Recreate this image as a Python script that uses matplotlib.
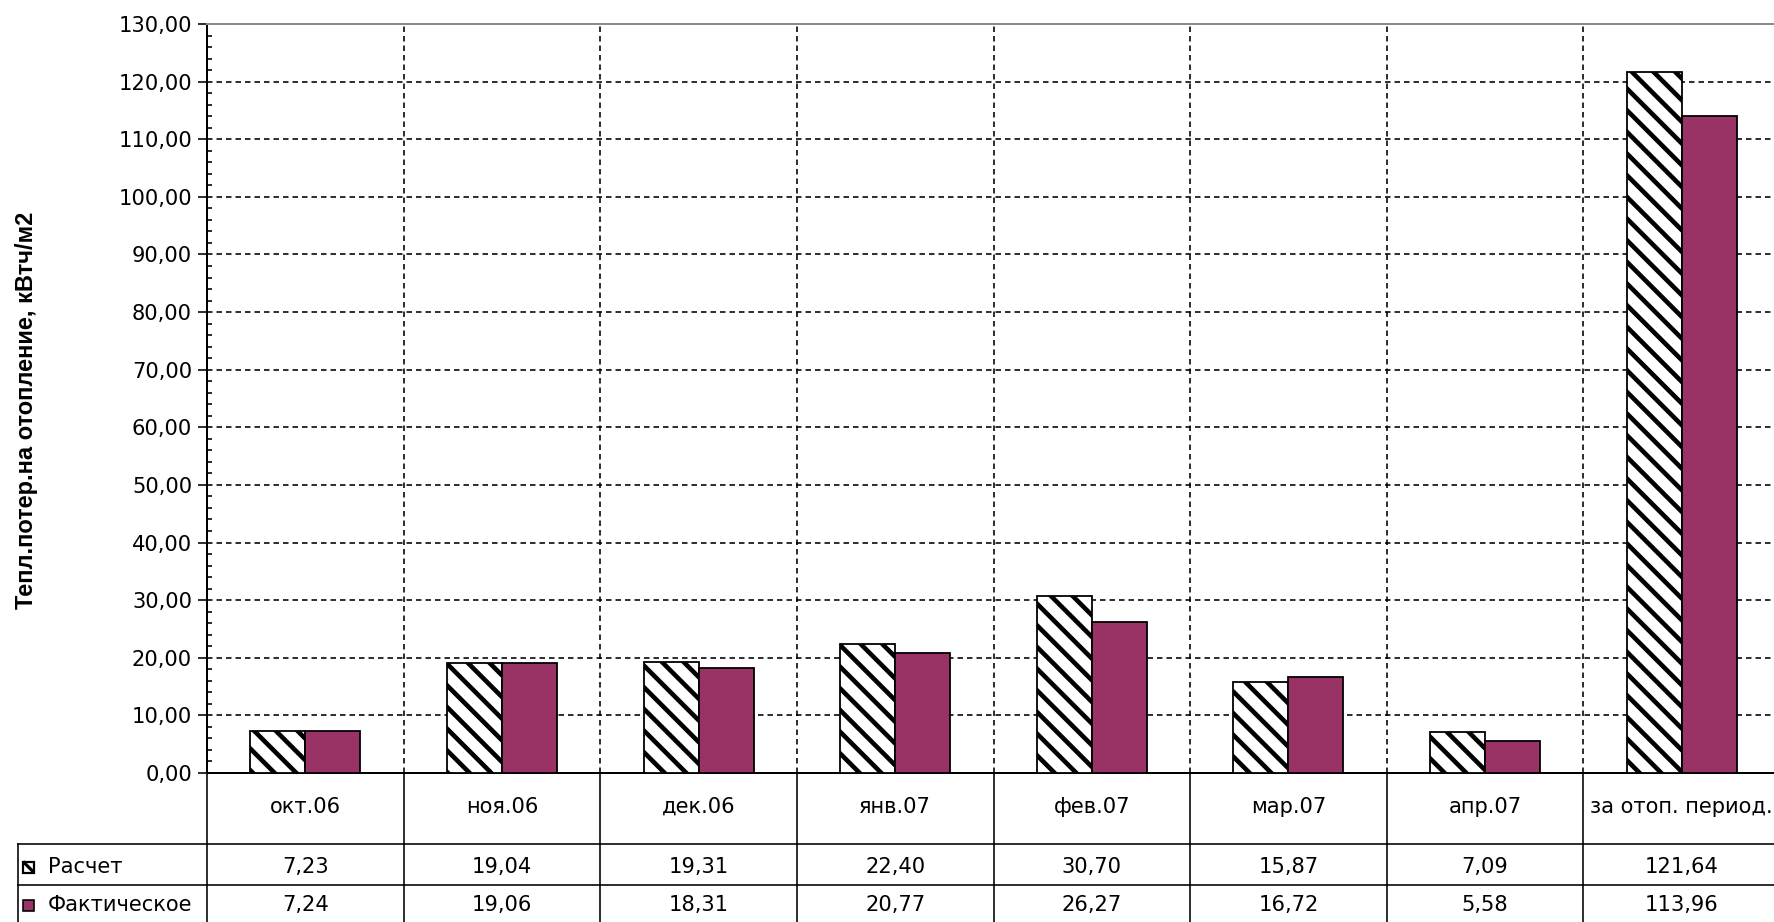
import matplotlib
matplotlib.use("Agg")
import matplotlib.pyplot as plt
import numpy as np
from matplotlib.lines import Line2D
from matplotlib.patches import Rectangle
from matplotlib.transforms import blended_transform_factory
from matplotlib.ticker import MultipleLocator, FuncFormatter

# ---- data -------------------------------------------------------------
categories = ["окт.06", "ноя.06", "дек.06", "янв.07", "фев.07", "мар.07",
              "апр.07", "за отоп. период."]
calc = [7.23, 19.04, 19.31, 22.40, 30.70, 15.87, 7.09, 121.64]
fact = [7.24, 19.06, 18.31, 20.77, 26.27, 16.72, 5.58, 113.96]
series_names = ["Расчет", "Фактическое"]
y_title = "Тепл.потер.на отопление, кВтч/м2"
y_max, y_major, y_minor = 130, 10, 2

# ---- styling ----------------------------------------------------------
W, H, DPI = 1774, 922, 130
PT = 72.0 / DPI                      # points per pixel
PLUM = "#993366"
FS = 21 * PT                         # ~21 px em size

plt.rcParams["font.family"] = ["DejaVu Sans"]
plt.rcParams["hatch.linewidth"] = 4.6 * PT
plt.rcParams["lines.scale_dashes"] = False
HATCH = "\\\\"


def comma(v):
    return f"{v:.2f}".replace(".", ",")


def fy(y):
    return 1 - y / H


fig = plt.figure(figsize=(W / DPI, H / DPI), dpi=DPI)
fig.patch.set_facecolor("white")

ax_l, ax_r, ax_t, ax_b = 207, 1780, 24, 773
ax = fig.add_axes([ax_l / W, fy(ax_b), (ax_r - ax_l) / W, (ax_b - ax_t) / H])
ax.set_facecolor("white")

x = np.arange(len(categories))
bw = 0.28
ax.bar(x - bw / 2, calc, width=bw, facecolor="white", edgecolor="black",
       hatch=HATCH, linewidth=1.8 * PT, zorder=3)
ax.bar(x + bw / 2, fact, width=bw, facecolor=PLUM, edgecolor="black",
       linewidth=1.8 * PT, zorder=3)

ax.set_xlim(-0.5, len(categories) - 0.5)
ax.set_ylim(0, y_max)
ax.set_xticks([])
ax.yaxis.set_major_locator(MultipleLocator(y_major))
ax.yaxis.set_minor_locator(MultipleLocator(y_minor))
ax.yaxis.set_major_formatter(FuncFormatter(lambda v, p: comma(v)))
ax.tick_params(axis="y", which="major", direction="out", length=9 * PT,
               width=1.6 * PT, pad=6 * PT, labelsize=FS, colors="black")
ax.tick_params(axis="y", which="minor", direction="in", length=5 * PT,
               width=1.6 * PT)

dash = (0, (5.5 * PT, 4 * PT))
for v in np.arange(y_major, y_max, y_major):
    ax.axhline(v, color="black", lw=1.6 * PT, linestyle=dash, zorder=1)
for b in np.arange(len(categories) - 1) + 0.5:
    ax.axvline(b, color="black", lw=1.6 * PT, linestyle=dash, zorder=1)

for side in ("left", "bottom"):
    ax.spines[side].set_color("black")
    ax.spines[side].set_linewidth(2 * PT)
ax.spines["top"].set_color("#8c8c8c")
ax.spines["top"].set_linewidth(2 * PT)
ax.spines["right"].set_visible(False)

fig.text(27 / W, fy(410), y_title, rotation=90, ha="center", va="center",
         fontsize=23.6 * PT, fontweight="bold", family=["Liberation Sans"])

# ---- data table under the chart ---------------------------------------
blend = blended_transform_factory(ax.transData, fig.transFigure)
row_top, row_mid = 844, 885
cat_y, r1_y, r2_y = 807, 867, 905
tbl_left = 18

lw_tbl = 1.6 * PT
fig.add_artist(Line2D([tbl_left / W, 1], [fy(row_top)] * 2, color="black",
                      lw=lw_tbl, transform=fig.transFigure))
fig.add_artist(Line2D([tbl_left / W, 1], [fy(row_mid)] * 2, color="black",
                      lw=lw_tbl, transform=fig.transFigure))
fig.add_artist(Line2D([tbl_left / W] * 2, [fy(row_top), 0], color="black",
                      lw=lw_tbl, transform=fig.transFigure))
for b in np.arange(len(categories) + 1) - 0.5:
    ax.add_line(Line2D([b, b], [fy(ax_b), 0], color="black", lw=lw_tbl,
                       transform=blend, clip_on=False))

for i, (c, a, f) in enumerate(zip(categories, calc, fact)):
    ax.text(i, fy(cat_y), c, transform=blend, ha="center", va="center",
            fontsize=FS, clip_on=False)
    ax.text(i, fy(r1_y), comma(a), transform=blend, ha="center",
            va="center", fontsize=FS, clip_on=False)
    ax.text(i, fy(r2_y), comma(f), transform=blend, ha="center",
            va="center", fontsize=FS, clip_on=False)

# legend keys inside the table
key = 11
kx = 23
fig.add_artist(Rectangle((kx / W, fy(r1_y + key / 2)), key / W, key / H,
                         transform=fig.transFigure, facecolor="white",
                         edgecolor="black", lw=2.2 * PT))
fig.add_artist(Line2D([kx / W, (kx + key) / W],
                      [fy(r1_y - key / 2), fy(r1_y + key / 2)],
                      color="black", lw=3.2 * PT, solid_capstyle="butt",
                      transform=fig.transFigure))
fig.add_artist(Rectangle((kx / W, fy(r2_y + key / 2)), key / W, key / H,
                         transform=fig.transFigure, facecolor=PLUM,
                         edgecolor="black", lw=1.6 * PT))
fig.text(48 / W, fy(r1_y), series_names[0], ha="left", va="center",
         fontsize=FS)
fig.text(48 / W, fy(r2_y), series_names[1], ha="left", va="center",
         fontsize=FS)

fig.savefig("out.png", dpi=DPI, facecolor="white")
